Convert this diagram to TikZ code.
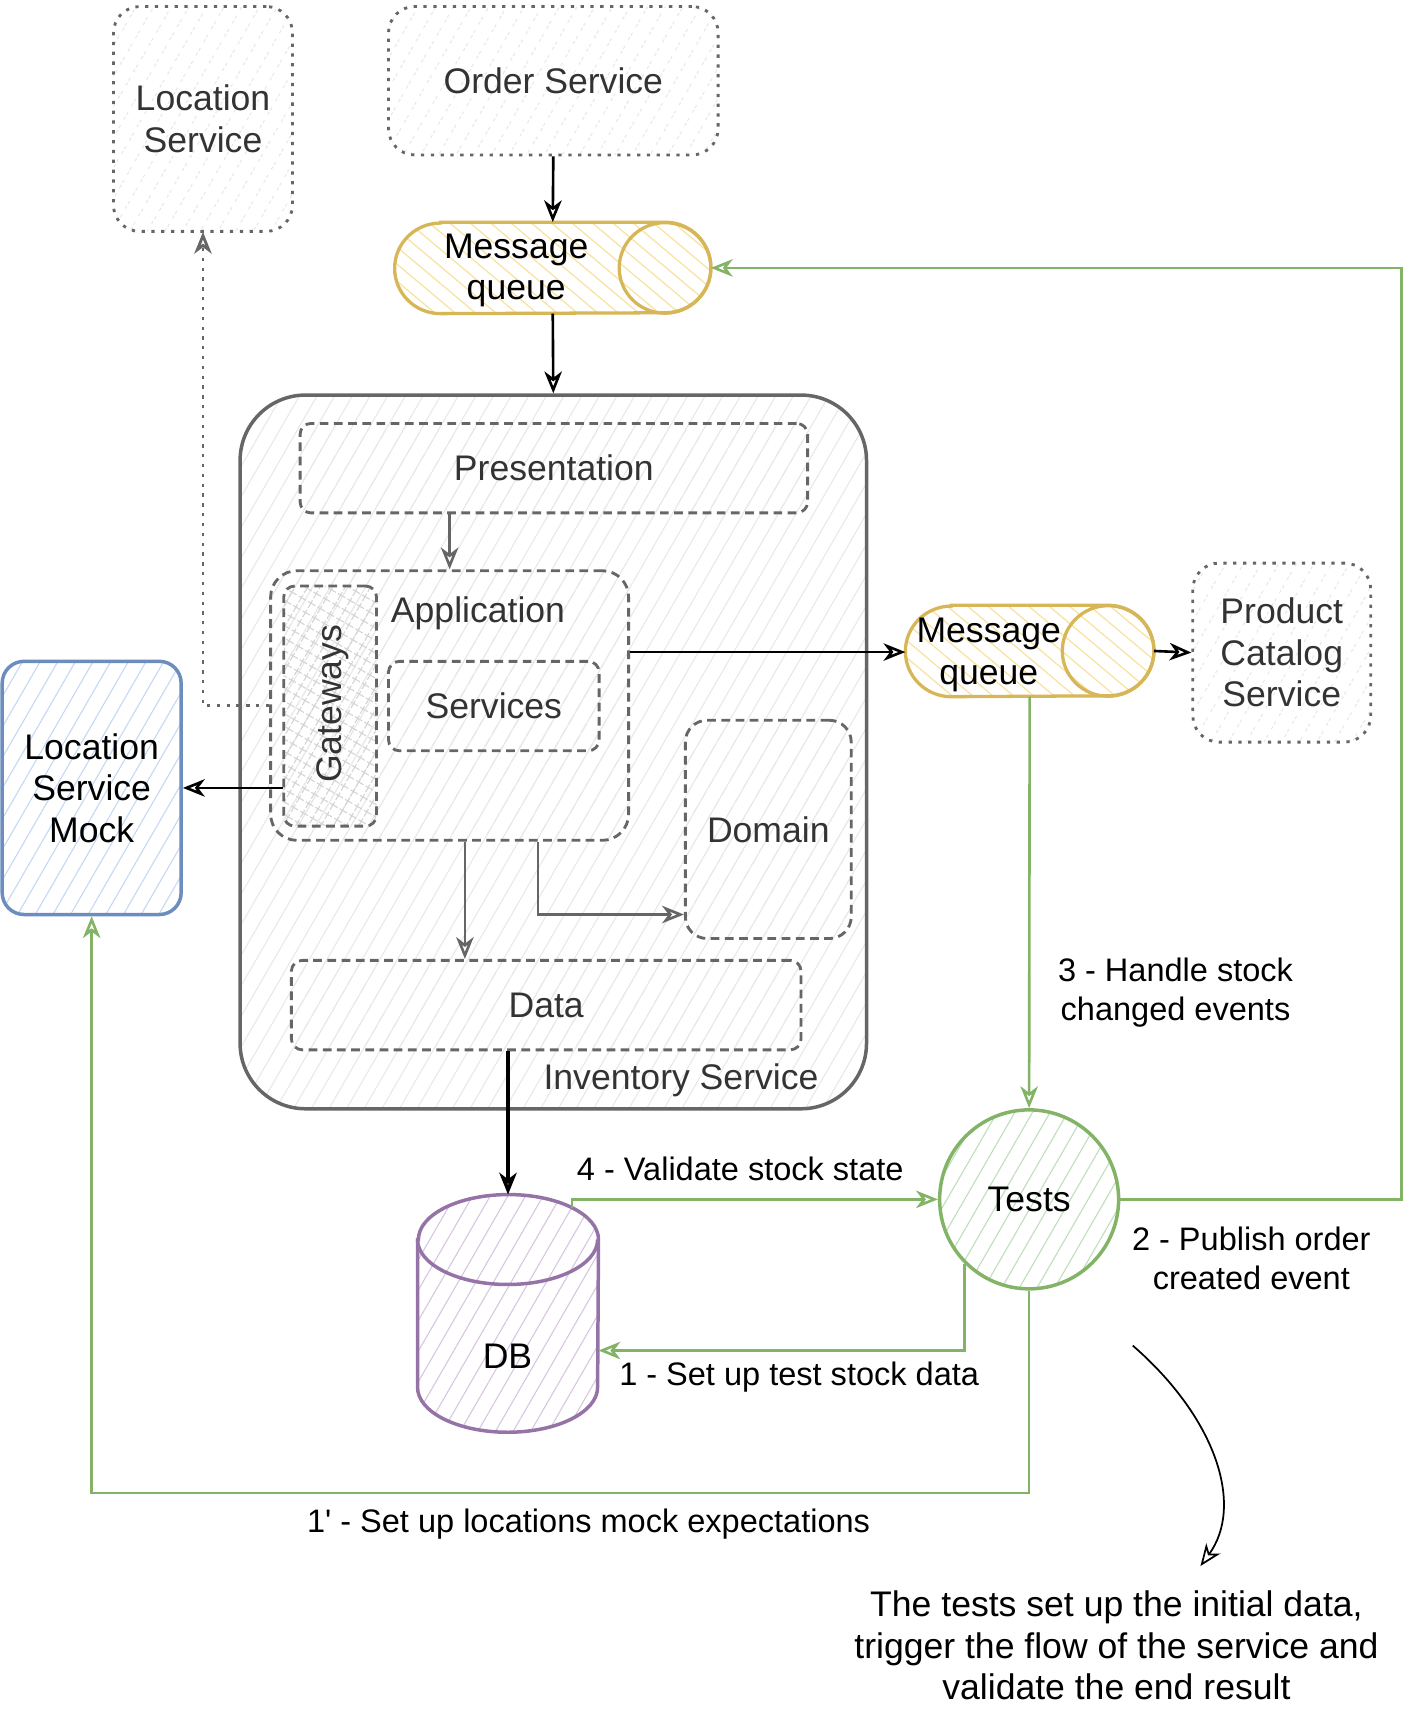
\documentclass[tikz,border=0pt]{standalone}
\usepackage{fontspec}
\newfontfamily\diafont{Liberation Sans}
\usetikzlibrary{arrows.meta,patterns.meta}

\definecolor{gline}{HTML}{666666}
\definecolor{gtext}{HTML}{333333}
\definecolor{ghatch}{HTML}{E8E8E8}
\definecolor{gwhatch}{HTML}{D4D4D4}
\definecolor{yline}{HTML}{D6B656}
\definecolor{yhatch}{HTML}{F8E3A3}
\definecolor{bline}{HTML}{6C8EBF}
\definecolor{bhatch}{HTML}{C4D7F3}
\definecolor{pline}{HTML}{9673A6}
\definecolor{phatch}{HTML}{D6C6DF}
\definecolor{tline}{HTML}{82B366}
\definecolor{thatch}{HTML}{BFDDBC}

\newcommand\dfont{\diafont\fontsize{16.3}{19}\selectfont}
\newcommand\efont{\diafont\fontsize{14.9}{18}\selectfont}

\tikzset{
  lbl/.style={inner sep=0pt, align=center},
  edgelbl/.style={lbl, font=\efont, text=black},
  hatchfill/.style={pattern={Lines[angle=60,distance=7pt,line width=0.5pt]}, pattern color=#1},
  graybox/.style={draw=gline, line width=1.3pt, hatchfill=ghatch, text=gtext,
    inner sep=0pt, align=center, rounded corners=5pt},
  dashbox/.style={graybox, dash pattern=on 4pt off 2.5pt},
  dotbox/.style={graybox, dash pattern=on 1.5pt off 3pt, rounded corners=12pt},
  slot/.style={inner sep=0pt, minimum height=41.5pt},
  queuebody/.style={draw=yline, line width=1.5pt,
    pattern={Lines[angle=-40,distance=6pt,line width=0.6pt]}, pattern color=yhatch},
  dbbody/.style={draw=pline, line width=1.6pt, hatchfill=phatch},
  tip/.style={-{Stealth[open,length=10pt,width=8pt,inset=3pt]}},
  blackarrow/.style={tip, line width=1.2pt, draw=black},
  grayarrow/.style={tip, line width=1.2pt, draw=gline},
  greenarrow/.style={tip, line width=1.2pt, draw=tline},
}

\begin{document}
\begin{tikzpicture}[x=0.5pt,y=-0.5pt,font=\dfont]
\useasboundingbox (0,0) rectangle (1287,1566);

% outer services
\node[dotbox, minimum width=82pt, minimum height=103pt] (locsvc) at (186,109) {Location\\Service};
\node[dotbox, minimum width=151pt, minimum height=68pt] (ordersvc) at (507,74) {Order Service};
\node[dotbox, minimum width=81.5pt, minimum height=82pt] (pcs) at (1174.5,598) {Product\\Catalog\\Service};

% queues
\node[slot, minimum width=144.5pt] (mqtop) at (506.5,245.5) {};
\node[slot, minimum width=113.5pt] (mqright) at (943.5,596.5) {};
\foreach \q in {mqtop,mqright} {
  \draw[queuebody] ([xshift=21pt]\q.north west) -- ([xshift=-21pt]\q.north east)
    arc[start angle=90, end angle=-90, x radius=21pt, y radius=20.75pt]
    -- ([xshift=21pt]\q.south west)
    arc[start angle=270, end angle=90, x radius=21pt, y radius=20.75pt] -- cycle;
  \draw[draw=yline, line width=1.5pt] ([xshift=-21pt]\q.east) ellipse[x radius=21pt, y radius=20.75pt];
}
\node[lbl] (mqtop-t) at (473,248) {Message\\queue};
\node[lbl] (mqright-t) at (906,600) {Message\\queue};

% inventory service
\node[graybox, line width=1.6pt, minimum width=287pt, minimum height=327pt, rounded corners=30pt] (inventory) at (507,689) {};
\node[lbl, text=gtext] (inventory-t) at (624,990) {Inventory Service};
\node[dashbox, minimum width=232.5pt, minimum height=41pt] (pres) at (507.5,429) {Presentation};
\node[dashbox, minimum width=164pt, minimum height=123.5pt, rounded corners=12pt] (app) at (412,646.5) {};
\node[lbl, text=gtext] (app-t) at (438,562) {Application};
\node[dashbox, pattern={Hatch[angle=60,distance=5pt,line width=0.5pt]}, pattern color=gwhatch,
  minimum width=42.5pt, minimum height=110pt] (gw) at (302.5,647) {};
\node[lbl, text=gtext, rotate=90] (gw-t) at (305,645) {Gateways};
\node[dashbox, minimum width=96.5pt, minimum height=41pt] (svc) at (452.5,647) {Services};
\node[dashbox, minimum width=76pt, minimum height=100pt, rounded corners=10pt] (domain) at (704,760) {Domain};
\node[dashbox, minimum width=233.5pt, minimum height=41pt] (data) at (500.5,921) {Data};

% mock, db, tests
\node[draw=bline, line width=1.6pt, hatchfill=bhatch, rounded corners=10pt, align=center, inner sep=0pt,
  minimum width=82pt, minimum height=116pt] (lsm) at (84,722) {Location\\Service\\Mock};
\node[inner sep=0pt, minimum width=82.5pt, minimum height=108.5pt] (db) at (465.5,1203.5) {};
\draw[dbbody] ([yshift=-20.6pt]db.north west) -- ([yshift=20.6pt]db.south west)
  arc[start angle=180, end angle=360, x radius=41.25pt, y radius=20.6pt]
  -- ([yshift=-20.6pt]db.north east)
  arc[start angle=0, end angle=180, x radius=41.25pt, y radius=20.6pt] -- cycle;
\draw[draw=pline, line width=1.6pt] ([yshift=-20.6pt]db.north west)
  arc[start angle=180, end angle=360, x radius=41.25pt, y radius=20.6pt];
\node[lbl] (db-t) at (465,1243) {DB};
\node[circle, draw=tline, line width=1.6pt, hatchfill=thatch, inner sep=0pt,
  minimum size=82pt] (tests) at (943,1099) {Tests};

% note
\node[lbl] (note) at (1023,1508) {The tests set up the initial data,\\trigger the flow of the service and\\validate the end result};
\coordinate (curvestart) at (1038,1233);
\coordinate (curveend) at (1100,1435);
\coordinate (rightrail) at (1284,0);
\coordinate (mockrail) at (0,1368);

% flow
\draw[blackarrow] (ordersvc.south) -- (mqtop.north);
\draw[blackarrow] (mqtop.south) -- (inventory.north);
\draw[grayarrow] (pres.south -| app.north) -- (app.north);
\draw[grayarrow] ([xshift=7pt]app.south) -- ([xshift=7pt]app.south |- data.north);
\draw[grayarrow] ([xshift=40.5pt]app.south) |- ([yshift=-39pt]domain.west);
\draw[blackarrow] ([yshift=24.5pt]app.east) -- ([yshift=24.5pt]app.east -| mqright.west);
\draw[blackarrow] (mqright.east) -- (pcs.west);
\draw[blackarrow] ([yshift=-37.5pt]gw.west) -- ([yshift=-37.5pt]gw.west -| lsm.east);
\draw[grayarrow, line width=1.3pt, dash pattern=on 1.5pt off 3pt] (app.west) -| (locsvc.south);
\draw[blackarrow, line width=1.6pt] (data.south -| db.north) -- (db.north);

% tests
\draw[greenarrow] (mqright.south) -- (tests.north)
  node[edgelbl, pos=0.72, xshift=67pt] (lbl3) {3 - Handle stock\\changed events};
\draw[greenarrow] (tests.east)
  node[edgelbl, xshift=60pt, yshift=-27pt] (lbl2) {2 - Publish order\\created event}
  -| (rightrail |- mqtop.east) -- (mqtop.east);
\draw[greenarrow] ([xshift=29.25pt,yshift=-6pt]db.north) |- (tests.west)
  node[edgelbl, pos=0.73, yshift=14pt] (lbl4) {4 - Validate stock state};
\draw[greenarrow] (tests.225) |- ([yshift=-17pt]db.east)
  node[edgelbl, pos=0.726, yshift=-12pt] (lbl1) {1 - Set up test stock data};
\draw[greenarrow] (tests.south) -- (tests.south |- mockrail) -| (lsm.south)
  node[edgelbl, pos=0.235, yshift=-14.5pt] (lbl1b) {1' - Set up locations mock expectations};

\draw[tip, line width=0.8pt] (curvestart) .. controls (1115,1300) and (1140,1380) .. (curveend);
\end{tikzpicture}
\end{document}
